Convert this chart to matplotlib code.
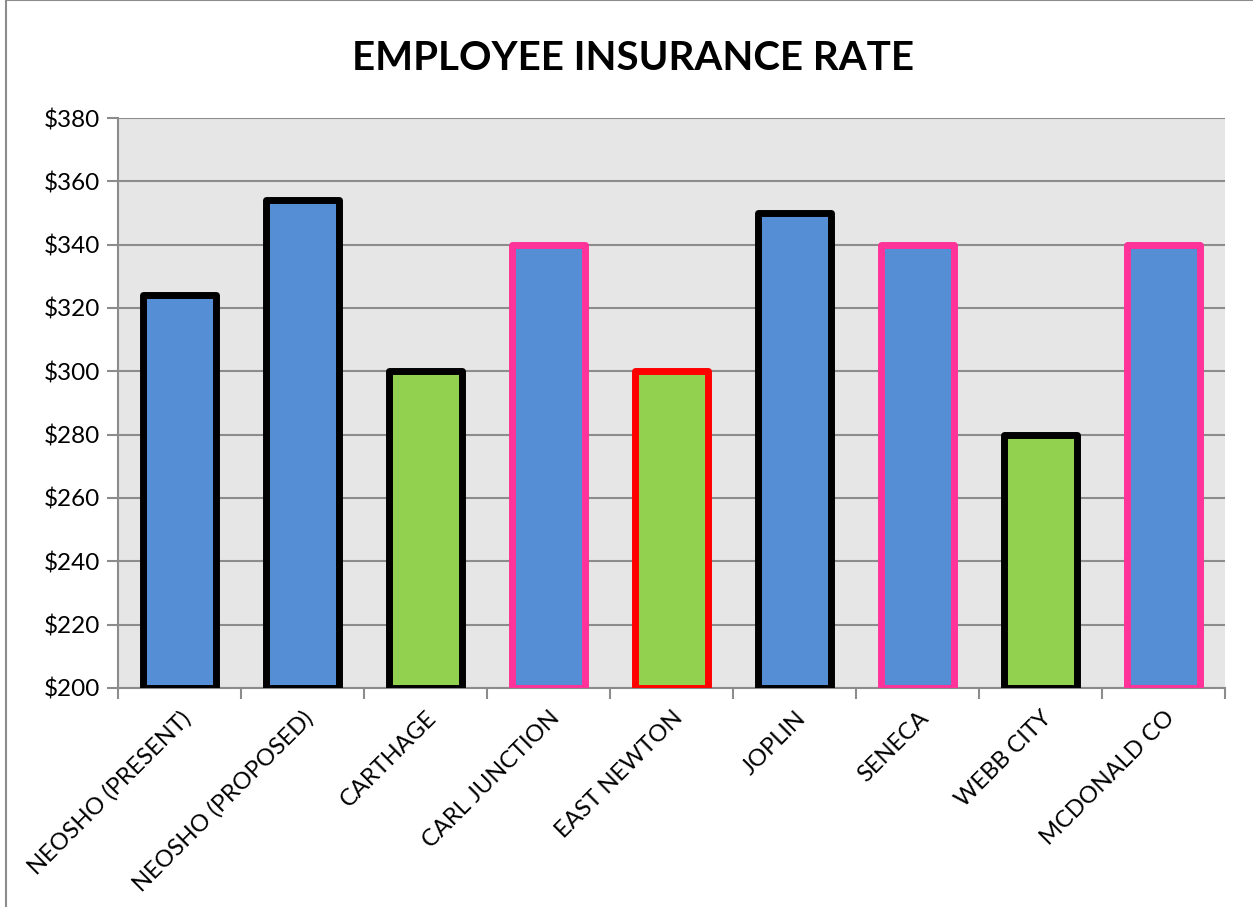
import matplotlib.pyplot as plt
from matplotlib.patches import Rectangle

categories = ["NEOSHO (PRESENT)", "NEOSHO (PROPOSED)", "CARTHAGE", "CARL JUNCTION",
              "EAST NEWTON", "JOPLIN", "SENECA", "WEBB CITY", "MCDONALD CO"]
rates = [324, 354, 300, 340, 300, 350, 340, 280, 340]
fill_colors = ["#558ed5", "#558ed5", "#92d050", "#558ed5", "#92d050",
               "#558ed5", "#558ed5", "#92d050", "#558ed5"]
edge_colors = ["black", "black", "black", "#ff3399", "#ff0000",
               "black", "#ff3399", "black", "#ff3399"]
yticks = list(range(200, 381, 20))

plt.rcParams['font.family'] = ['Lato', 'DejaVu Sans']

fig = plt.figure(figsize=(12.53, 9.07), dpi=100)
ax = fig.add_axes([0.0942, 0.2415, 0.8835, 0.6284])
ax.set_facecolor("#e6e6e6")

x = list(range(len(categories)))
ax.bar(x, [r - 200 for r in rates], bottom=200, width=0.6,
       color=fill_colors, edgecolor=edge_colors, linewidth=5, zorder=3,
       joinstyle="round")

ax.set_xlim(-0.5, len(categories) - 0.5)
ax.set_ylim(200, 380)
ax.set_yticks(yticks)
ax.set_yticklabels([f"${v}" for v in yticks], fontsize=17.5)
ax.yaxis.grid(True, color="#8c8c8c", linewidth=1.5, zorder=0)
ax.set_axisbelow(True)

ax.set_xticks(x)
ax.set_xticklabels(categories, rotation=45, ha="right", rotation_mode="anchor", fontsize=17)
ax.tick_params(axis="x", length=0, pad=14)
ax.set_xticks([i - 0.5 for i in range(len(categories) + 1)], minor=True)
ax.tick_params(axis="x", which="minor", length=8, width=1.5, color="#8c8c8c", direction="out")
ax.tick_params(axis="y", length=8, width=1.5, color="#8c8c8c", direction="out", pad=5)

for side in ["top", "right"]:
    ax.spines[side].set_visible(False)
for side in ["left", "bottom"]:
    ax.spines[side].set_color("#8c8c8c")
    ax.spines[side].set_linewidth(1.5)

fig.text(0.505, 0.935, "EMPLOYEE INSURANCE RATE", ha="center", va="center",
         fontsize=29, fontweight="bold")

# chart frame
fig.patches.append(Rectangle((0.005, -0.01), 1.2, 1.0095, transform=fig.transFigure,
                             fill=False, edgecolor="#8c8c8c", linewidth=1.5))

fig.savefig("out.png", dpi=100)
